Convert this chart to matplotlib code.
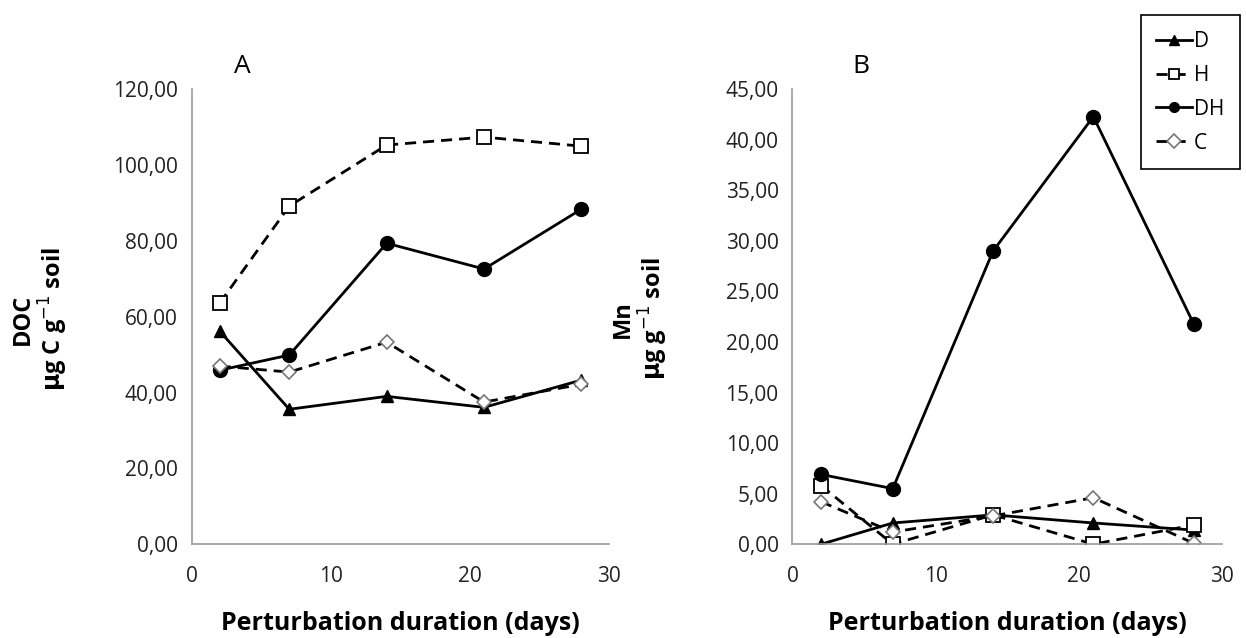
import matplotlib.pyplot as plt
from matplotlib.ticker import FuncFormatter

days = [2, 7, 14, 21, 28]

# DOC (ug C g-1 soil)
doc_D = [56.2, 35.6, 39.0, 36.1, 43.3]
doc_H = [63.6, 89.2, 105.3, 107.4, 105.0]
doc_DH = [45.9, 49.9, 79.4, 72.6, 88.4]
doc_C = [47.0, 45.4, 53.3, 37.5, 42.2]

# Mn (ug g-1 soil)
mn_D = [0.0, 2.1, 2.9, 2.1, 1.4]
mn_H = [5.8, 0.0, 2.9, 0.0, 1.9]
mn_DH = [6.9, 5.5, 29.0, 42.3, 21.8]
mn_C = [4.2, 1.2, 2.8, 4.6, 0.1]

series_labels = ["D", "H", "DH", "C"]

plt.rcParams["font.family"] = ["Open Sans", "DejaVu Sans"]

fig = plt.figure(figsize=(12.46, 6.38), dpi=100)
axA = fig.add_axes([0.154, 0.147, 0.335, 0.713])
axB = fig.add_axes([0.636, 0.147, 0.345, 0.713])

comma = FuncFormatter(lambda v, p: f"{v:.2f}".replace(".", ","))


def draw(ax, D, H, DH, C):
    lines = []
    lines += ax.plot(days, D, "-", color="black", lw=2, marker="^", ms=9,
                     mfc="black", mec="black")
    lines += ax.plot(days, H, "--", color="black", lw=2, marker="s", ms=10,
                     mfc="white", mec="black", mew=1.3, dashes=(4, 2.5))
    lines += ax.plot(days, DH, "-", color="black", lw=2, marker="o", ms=10,
                     mfc="black", mec="black")
    lines += ax.plot(days, C, "--", color="black", lw=2, marker="D", ms=7,
                     mfc="white", mec="#777777", mew=1.2, dashes=(4, 2.5))
    ax.set_xlim(0, 30)
    ax.set_xticks([0, 10, 20, 30])
    ax.yaxis.set_major_formatter(comma)
    for s in ["top", "right"]:
        ax.spines[s].set_visible(False)
    for s in ["left", "bottom"]:
        ax.spines[s].set_color("#999999")
        ax.spines[s].set_linewidth(1.2)
    ax.tick_params(axis="both", labelsize=15, length=0,
                   colors="#999999", labelcolor="#222222")
    ax.tick_params(axis="y", pad=10)
    ax.tick_params(axis="x", pad=16)
    ax.set_xlabel("Perturbation duration (days)", fontsize=18,
                  fontweight="bold", labelpad=17)
    return lines


lines = draw(axA, doc_D, doc_H, doc_DH, doc_C)
axA.set_ylim(0, 120)
axA.set_yticks(range(0, 121, 20))
draw(axB, mn_D, mn_H, mn_DH, mn_C)
axB.set_ylim(0, 45)
axB.set_yticks(range(0, 46, 5))

axA.text(0.1, 1.035, "A", transform=axA.transAxes, fontsize=19)
axB.text(0.14, 1.035, "B", transform=axB.transAxes, fontsize=19)

# y labels: two lines each, placed manually
fig.text(0.018, 0.5, "DOC", rotation=90, fontsize=17, fontweight="bold",
         ha="center", va="center")
fig.text(0.043, 0.5, r"$\mathbf{\mu}$g C g$^{-1}$ soil", rotation=90,
         fontsize=17, fontweight="bold", ha="center", va="center")
fig.text(0.500, 0.5, "Mn", rotation=90, fontsize=17, fontweight="bold",
         ha="center", va="center")
fig.text(0.524, 0.5, r"$\mathbf{\mu}$g g$^{-1}$ soil", rotation=90,
         fontsize=17, fontweight="bold", ha="center", va="center")

leg = fig.legend(lines, series_labels, loc="upper right",
                 bbox_to_anchor=(0.995, 0.976), borderaxespad=0,
                 fontsize=15, handlelength=1.7, handletextpad=0.1,
                 labelspacing=0.62, borderpad=0.75, fancybox=False,
                 framealpha=1)
leg.get_frame().set_edgecolor("black")
leg.get_frame().set_linewidth(1.2)
for h in leg.legend_handles:
    h.set_markersize(7)

fig.savefig("out.png", dpi=100)
